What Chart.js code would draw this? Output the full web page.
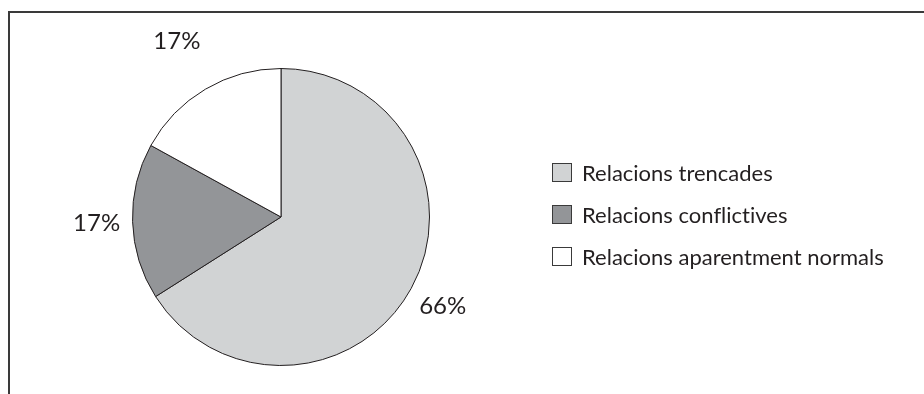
<!DOCTYPE html>
<html>
<head>
<meta charset="utf-8">
<script src="https://cdn.jsdelivr.net/npm/chart.js@4.4.0/dist/chart.umd.min.js"></script>
<style>
  html, body { margin: 0; padding: 0; background: #fff; }
  body { width: 924px; height: 394px; position: relative; overflow: hidden; font-family: Lato, sans-serif; color: #231f20; font-variant-ligatures: none; }
  .frame { position: absolute; left: 8px; top: 11px; right: 0; bottom: -4px; border-top: 2px solid #3a3a3a; border-left: 2px solid #3a3a3a; }
  .pie-box { position: absolute; left: 0; top: 0; width: 562px; height: 394px; }
  #legend { position: absolute; left: 552px; top: 151px; margin: 0; padding: 0; list-style: none; }
  #legend li { display: flex; align-items: center; height: 42px; font-size: 22px; }
  #legend .swatch { width: 18px; height: 17px; border: 1px solid #3a3a3a; margin-right: 10px; box-sizing: content-box; }
</style>
</head>
<body>
<div class="frame"></div>
<div class="pie-box"><canvas id="pieChart"></canvas></div>
<ul id="legend"></ul>
<script>
// dades del gràfic
const categories = ['Relacions trencades', 'Relacions conflictives', 'Relacions aparentment normals'];
const percentages = [66, 17, 17];
const sliceColors = ['#d1d3d4', '#939598', '#ffffff'];

// etiquetes de percentatge fora de cada sector
const outsideLabels = {
    id: 'outsideLabels',
    afterDatasetsDraw(chart, args, opts) {
        const ctx = chart.ctx;
        const meta = chart.getDatasetMeta(0);
        ctx.save();
        ctx.font = '24px Lato, sans-serif';
        ctx.fillStyle = '#231f20';
        ctx.textAlign = 'center';
        ctx.textBaseline = 'middle';
        meta.data.forEach((arc, i) => {
            const mid = (arc.startAngle + arc.endAngle) / 2;
            const r = arc.outerRadius + opts.gaps[i];
            const x = arc.x + Math.cos(mid) * r;
            const y = arc.y + Math.sin(mid) * r;
            ctx.fillText(percentages[i] + '%', x, y);
        });
        ctx.restore();
    }
};

new Chart(document.getElementById('pieChart'), {
    type: 'pie',
    data: {
        labels: categories,
        datasets: [{
            data: percentages,
            backgroundColor: sliceColors,
            borderColor: '#231f20',
            borderWidth: 1
        }]
    },
    options: {
        responsive: true,
        maintainAspectRatio: false,
        animation: false,
        layout: { padding: { top: 68, bottom: 28 } },
        plugins: {
            legend: { display: false },
            tooltip: { enabled: false },
            outsideLabels: { gaps: [36, 36, 56] }
        }
    },
    plugins: [outsideLabels]
});

// llegenda
const legend = document.getElementById('legend');
categories.forEach((name, i) => {
    const li = document.createElement('li');
    li.innerHTML = `<span class="swatch" style="background:${sliceColors[i]}"></span>${name}`;
    legend.appendChild(li);
});
</script>
</body>
</html>
